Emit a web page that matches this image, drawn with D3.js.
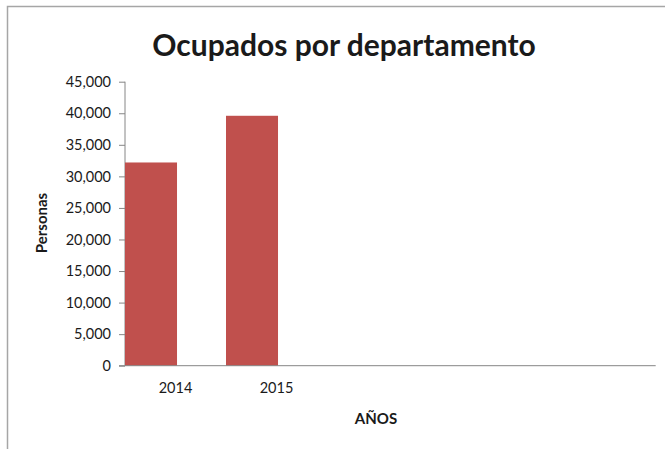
<!DOCTYPE html>
<html>
<head>
<meta charset="utf-8">
<script src="https://cdn.jsdelivr.net/npm/d3@7"></script>
<style>
  body { margin: 0; background: #fff; }
  svg { display: block; }
  text { font-family: Lato, 'Open Sans', sans-serif; fill: #1a1a1a; }
</style>
</head>
<body>
<svg id="chart" width="665" height="449"></svg>
<script>
const years = ['2014', '2015'];
const ocupados = [32200, 39600];
const yTicks = [0, 5000, 10000, 15000, 20000, 25000, 30000, 35000, 40000, 45000];

const width = 665;
const height = 449;
const margin = { top: 81.7, right: 9.3, bottom: 83.3, left: 125 };
const plotWidth = width - margin.left - margin.right;
const plotHeight = height - margin.top - margin.bottom;

const svg = d3.select('#chart');

// chart area frame (right / bottom edges fall outside the picture)
svg.append('rect')
  .attr('x', 7.5).attr('y', 6.5)
  .attr('width', 700).attr('height', 500)
  .attr('fill', 'none')
  .attr('stroke', '#a6a6a6')
  .attr('stroke-width', 1.5);

svg.append('text')
  .attr('x', 344)
  .attr('y', 56)
  .attr('text-anchor', 'middle')
  .attr('font-size', 30)
  .attr('font-weight', 'bold')
  .text('Ocupados por departamento');

const chart = svg.append('g').attr('transform', `translate(${margin.left},${margin.top})`);

// each category is ~101px wide; spare room stays at the right end of the axis
const step = 101;
const x = d3.scaleBand()
  .domain(years)
  .range([0, plotWidth])
  .paddingInner(0)
  .paddingOuter((plotWidth / step - years.length) / 2)
  .align(0);

const y = d3.scaleLinear().domain([0, 45000]).range([plotHeight, 0]);

const yAxis = chart.append('g')
  .call(d3.axisLeft(y).tickValues(yTicks).tickFormat(d3.format(',')).tickSize(6).tickPadding(8));
yAxis.select('.domain').attr('stroke', '#868686').attr('d', `M0,0V${plotHeight}`);
yAxis.selectAll('.tick line').attr('stroke', '#868686');
yAxis.selectAll('.tick text').attr('font-size', 14.5).attr('fill', '#1a1a1a');

chart.append('g')
  .selectAll('rect')
  .data(years)
  .join('rect')
  .attr('x', (d) => x(d))
  .attr('y', (d, i) => y(ocupados[i]))
  .attr('width', x.bandwidth() * 0.515)
  .attr('height', (d, i) => plotHeight - y(ocupados[i]))
  .attr('fill', '#c0504d');

const xAxis = chart.append('g')
  .attr('transform', `translate(0,${plotHeight})`)
  .call(d3.axisBottom(x).tickSize(0).tickPadding(17));
xAxis.select('.domain').attr('stroke', '#868686').attr('d', `M-6,0H${plotWidth}`);
xAxis.selectAll('.tick text').attr('font-size', 14.5).attr('fill', '#1a1a1a');

svg.append('text')
  .attr('transform', 'translate(47,223) rotate(-90)')
  .attr('text-anchor', 'middle')
  .attr('font-size', 15)
  .attr('font-weight', 'bold')
  .text('Personas');

svg.append('text')
  .attr('x', 376)
  .attr('y', 424)
  .attr('text-anchor', 'middle')
  .attr('font-size', 15)
  .attr('font-weight', 'bold')
  .text('AÑOS');
</script>
</body>
</html>
